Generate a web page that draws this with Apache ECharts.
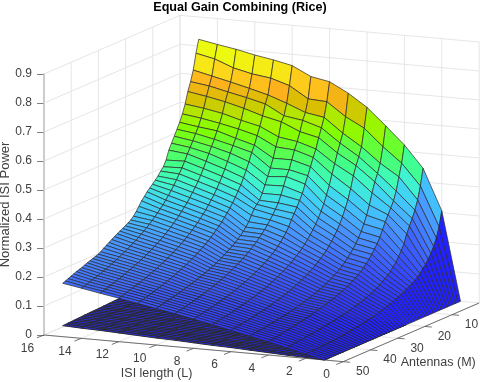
<!DOCTYPE html>
<html><head><meta charset="utf-8">
<style>html,body{margin:0;padding:0;background:#fff}#c{width:480px;height:382px}</style>
<script src="https://cdn.jsdelivr.net/npm/echarts@6/dist/echarts.min.js"></script>
</head><body><div id="c"></div>
<script>
const isiLengths=[1,2,3,4,5,6,7,8,9,10,11,12,13,14,15];
const antennas=[0,1,2,3,4,5,6,7,8,9,10,11,12,13,14,15,16,17,18,19,20,21,22,23,24,25,26,27,28,29,30,31,32,33,34,35,36,37,38,39,40,41,42,43,44,45,46,47,48,49,50];
const lowerAntennas=[20,21,22,23,24,25,26,27,28,29,30,31,32,33,34,35,36,37,38,39,40,41,42,43,44,45,46,47,48,49,50];
const lTicks=[0,2,4,6,8,10,12,14,16];
const mTicks=[10,20,30,40,50];
const zTicks=[0,.1,.2,.3,.4,.5,.6,.7,.8,.9];
const upperL01=[0,0,0,0,0,0,0,0,0,0,0,0,0,0,0,0,0,0,0,0,0,0,0,0,0,0,0,0,0,0,0,0,0,0,0,0,0,0,0,0,0,0,0,0,0,0,0,0,0,0,0];
const upperL02=[.306,.255,.22,.195,.175,.16,.145,.135,.122,.114,.106,.1,.094,.088,.083,.078,.074,.07,.066,.062,.058,.055,.052,.049,.046,.043,.041,.039,.037,.035,.033,.031,.03,.028,.027,.026,.024,.023,.022,.021,.02,.02,.019,.018,.018,.017,.017,.016,.016,.015,.015];
const upperL03=[.447,.39,.346,.315,.29,.268,.245,.215,.195,.178,.163,.151,.14,.131,.123,.116,.109,.103,.098,.093,.089,.085,.081,.078,.075,.072,.069,.067,.064,.062,.06,.058,.056,.054,.052,.051,.049,.047,.046,.045,.043,.042,.041,.04,.038,.037,.036,.035,.033,.032,.031];
const upperL04=[.522,.463,.42,.375,.345,.325,.305,.285,.262,.24,.222,.207,.193,.18,.169,.159,.15,.143,.136,.13,.124,.119,.114,.11,.106,.102,.098,.095,.092,.089,.086,.083,.081,.078,.076,.073,.071,.069,.067,.065,.063,.061,.059,.058,.056,.054,.052,.05,.049,.047,.046];
const upperL05=[.582,.514,.461,.43,.405,.371,.333,.302,.276,.254,.236,.22,.206,.194,.183,.173,.164,.156,.149,.143,.137,.131,.126,.121,.117,.113,.109,.105,.102,.099,.096,.093,.091,.088,.086,.084,.081,.079,.078,.076,.074,.072,.071,.069,.068,.066,.065,.064,.063,.061,.06];
const upperL06=[.64,.572,.512,.482,.455,.424,.384,.35,.323,.299,.278,.26,.245,.231,.218,.207,.197,.188,.18,.172,.165,.158,.153,.147,.142,.137,.133,.128,.124,.121,.117,.114,.111,.108,.105,.102,.1,.097,.095,.093,.091,.089,.087,.085,.083,.082,.08,.079,.077,.076,.074];
const upperL07=[.683,.606,.553,.523,.493,.46,.428,.393,.364,.338,.316,.297,.28,.265,.251,.239,.227,.217,.208,.2,.192,.184,.178,.171,.166,.16,.155,.15,.146,.141,.137,.134,.13,.127,.123,.12,.118,.115,.112,.11,.107,.105,.103,.101,.098,.096,.095,.093,.091,.089,.088];
const upperL08=[.717,.652,.602,.57,.54,.505,.48,.452,.425,.4,.372,.352,.333,.315,.298,.278,.262,.249,.237,.226,.217,.209,.201,.194,.188,.182,.176,.171,.166,.161,.157,.152,.149,.145,.141,.138,.134,.131,.128,.126,.123,.12,.118,.115,.113,.111,.109,.107,.105,.103,.101];
const upperL09=[.729,.656,.613,.59,.555,.525,.5,.47,.44,.42,.392,.365,.342,.324,.309,.295,.282,.27,.259,.25,.24,.232,.224,.216,.209,.203,.196,.191,.185,.18,.175,.171,.166,.162,.158,.154,.151,.147,.144,.141,.138,.135,.132,.13,.127,.125,.122,.12,.118,.116,.114];
const upperL10=[.761,.696,.639,.6,.583,.535,.505,.47,.44,.415,.39,.365,.345,.335,.323,.305,.287,.273,.262,.252,.243,.235,.228,.221,.215,.209,.203,.198,.193,.188,.184,.18,.176,.172,.169,.165,.162,.159,.156,.153,.15,.147,.145,.142,.14,.137,.135,.133,.131,.128,.126];
const upperL11=[.775,.716,.662,.635,.598,.566,.538,.509,.488,.46,.435,.413,.393,.375,.358,.343,.329,.316,.305,.293,.283,.274,.265,.256,.248,.241,.234,.228,.221,.215,.21,.205,.199,.195,.19,.186,.182,.178,.174,.17,.167,.163,.16,.157,.154,.151,.148,.146,.143,.141,.138];
const upperL12=[.786,.725,.679,.651,.618,.581,.555,.527,.506,.484,.459,.437,.416,.398,.381,.365,.351,.338,.325,.314,.303,.293,.284,.275,.267,.259,.252,.245,.238,.232,.226,.221,.215,.21,.205,.201,.196,.192,.188,.184,.18,.177,.173,.17,.167,.164,.161,.158,.155,.152,.15];
const upperL13=[.8,.74,.695,.665,.635,.599,.569,.547,.522,.501,.481,.458,.437,.418,.401,.385,.371,.357,.344,.333,.322,.311,.302,.293,.284,.276,.268,.261,.254,.248,.242,.236,.23,.225,.22,.215,.21,.206,.202,.198,.194,.19,.186,.183,.179,.176,.173,.17,.167,.164,.161];
const upperL14=[.811,.765,.71,.68,.648,.611,.581,.555,.536,.515,.496,.478,.457,.438,.421,.405,.39,.376,.363,.351,.339,.329,.319,.31,.301,.292,.284,.277,.27,.263,.257,.251,.245,.239,.234,.229,.224,.219,.215,.211,.206,.202,.199,.195,.191,.188,.185,.182,.178,.175,.173];
const upperL15=[.823,.779,.725,.689,.659,.62,.59,.565,.545,.525,.505,.485,.455,.436,.425,.412,.402,.392,.383,.374,.362,.351,.336,.322,.31,.301,.295,.289,.284,.279,.274,.268,.262,.256,.25,.244,.236,.232,.228,.225,.221,.218,.214,.21,.207,.204,.2,.196,.192,.188,.184];
const lowerL01=[0,0,0,0,0,0,0,0,0,0,0,0,0,0,0,0,0,0,0,0,0,0,0,0,0,0,0,0,0,0,0];
const lowerL02=[.004,.004,.004,.004,.004,.004,.004,.004,.003,.003,.003,.003,.003,.003,.003,.003,.003,.003,.003,.003,.003,.003,.003,.003,.003,.003,.003,.003,.003,.003,.003];
const lowerL03=[.007,.007,.007,.007,.007,.007,.007,.007,.007,.007,.007,.007,.006,.006,.006,.006,.006,.006,.006,.006,.006,.006,.006,.006,.006,.006,.006,.006,.005,.005,.005];
const lowerL04=[.011,.011,.011,.011,.011,.011,.01,.01,.01,.01,.01,.01,.01,.01,.01,.01,.009,.009,.009,.009,.009,.009,.009,.009,.009,.009,.009,.009,.008,.008,.008];
const lowerL05=[.015,.015,.014,.014,.014,.014,.014,.014,.014,.013,.013,.013,.013,.013,.013,.013,.013,.012,.012,.012,.012,.012,.012,.012,.012,.012,.011,.011,.011,.011,.011];
const lowerL06=[.018,.018,.018,.018,.018,.018,.018,.017,.017,.017,.017,.017,.016,.016,.016,.016,.016,.016,.016,.015,.015,.015,.015,.015,.015,.014,.014,.014,.014,.014,.014];
const lowerL07=[.022,.022,.022,.022,.021,.021,.021,.021,.021,.02,.02,.02,.02,.02,.019,.019,.019,.019,.019,.018,.018,.018,.018,.018,.018,.017,.017,.017,.017,.017,.016];
const lowerL08=[.026,.026,.025,.025,.025,.025,.024,.024,.024,.024,.024,.023,.023,.023,.023,.022,.022,.022,.022,.022,.021,.021,.021,.021,.02,.02,.02,.02,.02,.019,.019];
const lowerL09=[.03,.029,.029,.029,.028,.028,.028,.028,.027,.027,.027,.027,.026,.026,.026,.026,.025,.025,.025,.025,.024,.024,.024,.024,.023,.023,.023,.023,.022,.022,.022];
const lowerL10=[.033,.033,.033,.032,.032,.032,.031,.031,.031,.031,.03,.03,.03,.029,.029,.029,.029,.028,.028,.028,.027,.027,.027,.026,.026,.026,.026,.025,.025,.025,.024];
const lowerL11=[.037,.037,.036,.036,.036,.035,.035,.035,.034,.034,.034,.033,.033,.033,.032,.032,.032,.031,.031,.031,.03,.03,.03,.029,.029,.029,.029,.028,.028,.028,.027];
const lowerL12=[.041,.04,.04,.04,.039,.039,.038,.038,.038,.037,.037,.037,.036,.036,.036,.035,.035,.034,.034,.034,.033,.033,.033,.032,.032,.032,.031,.031,.031,.03,.03];
const lowerL13=[.044,.044,.044,.043,.043,.042,.042,.041,.041,.041,.04,.04,.04,.039,.039,.038,.038,.038,.037,.037,.036,.036,.036,.035,.035,.034,.034,.034,.033,.033,.033];
const lowerL14=[.048,.048,.047,.047,.046,.046,.045,.045,.044,.044,.044,.043,.043,.042,.042,.041,.041,.041,.04,.04,.039,.039,.039,.038,.038,.037,.037,.036,.036,.036,.035];
const lowerL15=[.052,.051,.051,.05,.05,.049,.049,.048,.048,.048,.047,.047,.046,.046,.045,.045,.044,.044,.043,.043,.043,.042,.042,.041,.041,.04,.04,.039,.039,.038,.038];
const upperRows=[upperL01,upperL02,upperL03,upperL04,upperL05,upperL06,upperL07,upperL08,upperL09,upperL10,upperL11,upperL12,upperL13,upperL14,upperL15];
const lowerRows=[lowerL01,lowerL02,lowerL03,lowerL04,lowerL05,lowerL06,lowerL07,lowerL08,lowerL09,lowerL10,lowerL11,lowerL12,lowerL13,lowerL14,lowerL15];
const colormap=['#2222ff','#2b30ff','#3446ff','#3c60ff','#4480ff','#4898ff','#44bcff','#40d8f0','#40f8c8','#40ff90','#58ff50','#80ff00','#a8f000','#d8c000','#ffb020','#fbdf18','#eef910','#e4ff10'];

const LDX=18.7,MDX=2.72,LDY=1.667,MDY=1.174,ZPX=290,Lmax=16,Mmax=50,Zmax=.9;
function P(api,L,M,z){
  const h=LDX*(Lmax-L)+MDX*(Mmax-M);
  const v=z-(LDY*(Lmax-L)-MDY*(Mmax-M))/ZPX;
  return api.coord([h,v]);
}
const TXT='#404040',FONT='"Liberation Sans",Arial,sans-serif';
function seg(a,b,color,w){return {type:'line',silent:true,shape:{x1:a[0],y1:a[1],x2:b[0],y2:b[1]},style:{stroke:color,lineWidth:w}};}
function txt(p,s,size,align){return {type:'text',silent:true,x:p[0],y:p[1],style:{text:s,fill:TXT,font:size+'px '+FONT,align:align||'center',verticalAlign:'middle'}};}

function frame(params,api){
  const ch=[],G='#e6e6e6';
  zTicks.forEach(z=>{
    ch.push(seg(P(api,Lmax,Mmax,z),P(api,Lmax,0,z),G,1));
    ch.push(seg(P(api,Lmax,0,z),P(api,0,0,z),G,1));
  });
  mTicks.forEach(m=>{
    ch.push(seg(P(api,Lmax,m,0),P(api,Lmax,m,Zmax),G,1));
    ch.push(seg(P(api,Lmax,m,0),P(api,0,m,0),G,1));
  });
  lTicks.forEach(l=>{
    ch.push(seg(P(api,l,0,0),P(api,l,0,Zmax),G,1));
    ch.push(seg(P(api,l,0,0),P(api,l,Mmax,0),G,1));
  });
  ch.push(seg(P(api,Lmax,0,0),P(api,Lmax,0,Zmax),G,1));
  return {type:'group',children:ch};
}
function axes3d(params,api){
  const ch=[],D='#505050';
  ch.push(seg(P(api,Lmax,Mmax,0),P(api,0,Mmax,0),D,.8));
  ch.push(seg(P(api,0,Mmax,0),P(api,0,0,0),D,.8));
  lTicks.forEach(l=>{
    const a=P(api,l,Mmax,0);
    ch.push(seg(a,[a[0]-7,a[1]+2.8],D,.8));
    ch.push(txt([a[0]-16.5,a[1]+13.5],String(l),12));
  });
  mTicks.forEach(m=>{
    const a=P(api,0,m,0);
    ch.push(seg(a,[a[0]+7,a[1]+.6],D,.8));
    ch.push(txt([a[0]+19.5,a[1]+10],String(m),12));
  });
  const n1=P(api,8,Mmax,0),n2=P(api,0,25,0);
  ch.push(txt([n1[0]-37,n1[1]+25.5],'ISI length (L)',12.5));
  ch.push(txt([n2[0]+27,n2[1]+30],'Antennas (M)',12.5));
  return {type:'group',children:ch};
}
function cellRender(rows,mList,width){
  return function(params,api){
    const i=api.value(0),j=api.value(1);
    const L0=isiLengths[i],L1=isiLengths[i+1],M0=mList[j],M1=mList[j+1];
    const pts=[P(api,L0,M0,rows[i][j]),P(api,L1,M0,rows[i+1][j]),P(api,L1,M1,rows[i+1][j+1]),P(api,L0,M1,rows[i][j+1])];
    const t=rows[i][j]/.85;
    return {type:'polygon',silent:true,shape:{points:pts},style:{fill:echarts.color.lerp(Math.min(1,t),colormap),stroke:'#2a2a2a',lineWidth:width,lineJoin:'round'}};
  };
}
function cells(mList){
  const d=[];
  for(let i=isiLengths.length-2;i>=0;i--)for(let j=0;j<mList.length-1;j++)d.push([i,j]);
  return d;
}
const chart=echarts.init(document.getElementById('c'),null,{renderer:'canvas'});
chart.setOption({
  animation:false,
  backgroundColor:'#fff',
  title:{text:'Equal Gain Combining (Rice)',left:'center',top:-4,textStyle:{fontFamily:FONT,fontWeight:'bold',fontSize:12.6,color:'#000'},itemGap:0},
  grid:{left:44,top:74,width:435,height:261,containLabel:false,outerBoundsMode:'none'},
  xAxis:{type:'value',min:0,max:435,show:false},
  yAxis:{type:'value',min:0,max:Zmax,interval:.1,name:'Normalized ISI Power',nameLocation:'middle',nameGap:32,nameRotate:90,nameMoveOverlap:false,
    nameTextStyle:{color:TXT,fontFamily:FONT,fontSize:13},
    axisLine:{show:true,lineStyle:{color:'#9a9a9a',width:1.5}},
    axisTick:{show:true,length:7,lineStyle:{color:'#606060',width:.8}},
    axisLabel:{color:TXT,fontFamily:FONT,fontSize:12,margin:12,formatter:v=>v===0?'0':String(Math.round(v*10)/10)},
    splitLine:{show:false}},
  series:[
    {type:'custom',renderItem:frame,data:[[0]],clip:false,silent:true,z:1},
    {type:'custom',renderItem:axes3d,data:[[0]],clip:false,silent:true,z:2},
    {type:'custom',renderItem:cellRender(lowerRows,lowerAntennas,1),data:cells(lowerAntennas),clip:false,silent:true,z:3,encode:{x:0,y:1}},
    {type:'custom',renderItem:cellRender(upperRows,antennas,.7),data:cells(antennas),clip:false,silent:true,z:4,encode:{x:0,y:1}}
  ]
});
</script></body></html>
